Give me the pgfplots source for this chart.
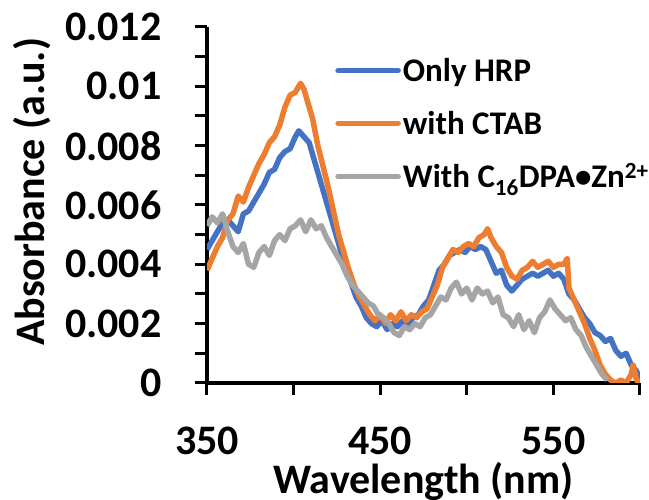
\documentclass[border=0pt]{standalone}
\usepackage{pgfplots}
\pgfplotsset{compat=1.18}
\usepackage{fontspec}
\setmainfont{Carlito}
\definecolor{cblue}{HTML}{4472C4}
\definecolor{corange}{HTML}{ED7D31}
\definecolor{cgray}{HTML}{A5A5A5}
\pgfplotstableread{
x y
350 4.5
353 4.8
356 5.1
359 5.4
362 5.5
365 5.3
368 5.1
371 5.7
374 5.8
377 6.1
380 6.4
383 6.7
386 7.1
389 7.2
392 7.6
395 7.8
398 7.9
401 8.3
403 8.5
406 8.3
409 8.1
412 7.5
415 6.9
418 6.3
421 5.7
424 5.1
427 4.5
430 3.9
433 3.4
436 2.9
439 2.6
442 2.2
445 2.0
448 1.9
451 2.1
454 1.8
457 2.0
460 1.9
463 2.1
466 2.0
469 2.2
472 2.3
475 2.6
478 2.8
481 3.3
484 3.8
487 4.0
490 4.3
493 4.4
496 4.5
499 4.4
502 4.6
505 4.5
508 4.6
511 4.5
514 4.1
517 3.7
520 3.8
523 3.3
526 3.1
529 3.3
532 3.5
535 3.6
538 3.7
541 3.6
544 3.7
547 3.8
550 3.6
553 3.7
556 3.5
559 3.0
562 2.8
565 2.5
568 2.2
571 2.0
574 1.7
577 1.6
580 1.4
583 1.5
586 1.1
589 0.9
592 1.0
595 0.6
598 0.4
600 0.1
}\hrp
\pgfplotstableread{
x y
350 3.8
353 4.2
356 4.6
359 4.9
362 5.5
365 5.7
368 6.3
371 6.1
374 6.6
377 7.0
380 7.4
383 7.7
386 8.1
389 8.3
392 8.7
395 9.3
398 9.7
401 9.8
404 10.1
406 9.9
408 9.5
411 8.9
414 8.0
417 7.3
420 6.6
423 5.8
426 5.0
429 4.4
432 3.8
435 3.3
438 2.9
441 2.6
444 2.3
447 2.1
450 2.3
453 2.0
456 2.3
459 2.1
462 2.4
465 2.1
468 2.3
471 2.2
474 2.4
477 2.5
480 2.9
483 3.3
486 3.9
489 4.2
492 4.5
495 4.4
498 4.6
501 4.7
504 4.6
507 4.9
510 5.0
512 5.2
514 4.9
517 4.6
520 4.4
523 3.9
526 3.6
529 3.5
532 3.8
535 3.9
538 4.1
541 3.9
544 4.0
547 4.1
550 3.9
553 4.0
556 4.0
558 4.2
559 3.2
562 2.8
565 2.4
568 2.0
571 1.5
574 1.1
577 0.6
580 0.3
583 0.1
586 0.0
589 0.1
592 0.0
595 0.3
596 0.6
598 0.1
600 0.0
}\ctab
\pgfplotstableread{
x y
350 5.3
353 5.6
356 5.4
359 5.7
362 5.1
365 4.6
368 4.4
371 4.7
374 4.0
377 3.9
380 4.4
383 4.6
386 4.3
389 4.8
392 5.0
395 4.8
398 5.2
401 5.3
404 5.5
407 5.1
410 5.5
413 5.2
416 5.3
419 4.9
422 4.6
425 4.3
428 4.0
431 3.6
434 3.3
437 3.1
440 2.9
443 2.7
446 2.6
449 2.3
452 2.2
455 2.0
458 1.7
461 1.6
464 1.9
467 1.8
470 2.0
473 1.9
476 2.2
479 2.3
482 2.6
485 2.9
488 2.8
491 3.2
494 3.4
497 3.0
500 3.2
503 2.8
506 3.2
509 3.0
512 3.1
515 2.7
518 2.9
521 2.3
524 2.2
527 1.9
530 2.3
533 1.8
536 2.1
539 1.7
542 2.2
545 2.4
548 2.8
551 2.5
554 2.3
557 2.1
560 2.2
563 1.8
566 1.6
569 1.2
572 0.9
575 0.6
578 0.3
581 0.1
}\dpa
\begin{document}
\begin{tikzpicture}
\begin{axis}[
  scale only axis, width=433pt, height=356pt,
  xmin=350, xmax=600, ymin=0, ymax=12,
  axis lines=left,
  axis line style={line width=3.5pt, -},
  tick style={line width=3pt, black},
  tick align=outside,
  major tick length=12pt,
  xtick={350,400,...,600},
  xticklabels={350,,450,,550,},
  ytick={0,1,...,12},
  yticklabels={0,,0.002,,0.004,,0.006,,0.008,,0.01,,0.012},
  /pgf/number format/assume math mode=true,
  tick label style={font=\fontsize{42}{42}\selectfont\bfseries},
  xticklabel style={yshift=-28pt},
  yticklabel style={xshift=-30pt},
  xlabel={Wavelength (nm)},
  ylabel={Absorbance (a.u.)},
  label style={font=\fontsize{42}{42}\selectfont\bfseries},
  xlabel style={at={(axis description cs:0.5,0)}, anchor=base, yshift=-111pt},
  ylabel style={at={(axis description cs:-0.404,0.537)}, anchor=center},
  legend style={draw=none, fill=none, at={(rel axis cs:0.296,0.918)}, anchor=north west,
    font=\fontsize{33}{33}\selectfont\bfseries, row sep=24pt, inner sep=0pt,
    legend cell align=left},
  legend image code/.code={\draw[line width=5.5pt, line cap=round] (0pt,0pt) -- (60pt,0pt);},
  every axis plot/.append style={line width=5.5pt, line join=round},
]
\addplot[cblue] table[x=x, y=y] {\hrp};
\addlegendentry{Only HRP}
\addplot[corange] table[x=x, y=y] {\ctab};
\addlegendentry{with CTAB}
\addplot[cgray] table[x=x, y=y] {\dpa};
\addlegendentry{With C\textsubscript{16}DPA\textbullet Zn\textsuperscript{2+}}
\coordinate (O) at (rel axis cs:0,0);
\end{axis}
\pgfresetboundingbox
\path (O) ++(-207pt,-117pt) rectangle ++(649pt,500pt);
\end{tikzpicture}
\end{document}
